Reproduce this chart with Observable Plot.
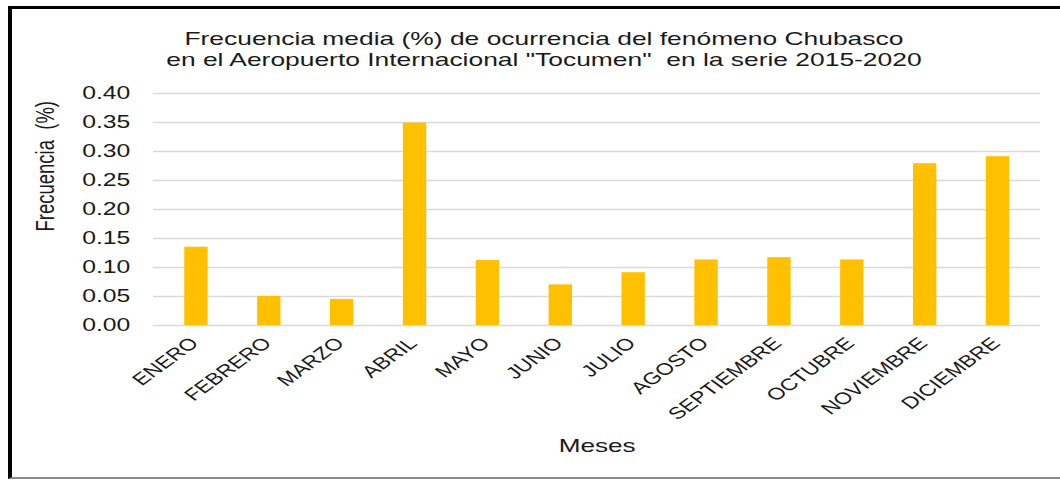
<!DOCTYPE html>
<html>
<head>
<meta charset="utf-8">
<script src="https://cdn.jsdelivr.net/npm/d3@7"></script>
<script src="https://cdn.jsdelivr.net/npm/@observablehq/plot@0.6"></script>
<style>
  html, body { margin: 0; padding: 0; background: #fff; width: 1060px; height: 481px; overflow: hidden; }
  #wrap { position: absolute; left: 0; top: 0; width: 771px; height: 481px; transform: scaleX(1.375); transform-origin: 0 0; }
  #frame { position: absolute; left: 8px; top: 6px; right: 0; bottom: 2px;
           border-top: 3px solid #000; border-left: 4px solid #000; border-bottom: 2px solid #8c8c8c;
           pointer-events: none; }
</style>
</head>
<body>
<div id="wrap"></div>
<div id="frame"></div>
<script>
const months = ["ENERO", "FEBRERO", "MARZO", "ABRIL", "MAYO", "JUNIO", "JULIO",
                "AGOSTO", "SEPTIEMBRE", "OCTUBRE", "NOVIEMBRE", "DICIEMBRE"];
const values = [0.135, 0.050, 0.045, 0.349, 0.112, 0.070, 0.091, 0.113, 0.117, 0.113, 0.279, 0.291];
const yTicks = [0.00, 0.05, 0.10, 0.15, 0.20, 0.25, 0.30, 0.35, 0.40];
const titleLines = [
  "Frecuencia media (%) de ocurrencia del fenómeno Chubasco",
  "en el Aeropuerto Internacional \"Tocumen\"  en la serie 2015-2020"
];
const yLabel = "Frecuencia  (%)";
const xLabel = "Meses";

const data = months.map((m, i) => ({ mes: m, valor: values[i] }));

const chart = Plot.plot({
  width: 771,
  height: 481,
  marginTop: 93,
  marginBottom: 156,
  marginLeft: 111.3,
  marginRight: 14.6,
  style: {
    fontFamily: "'Liberation Sans', Arial, sans-serif",
    fontSize: "18px",
    color: "#1a1a1a",
    background: "#fff",
    overflow: "visible"
  },
  x: { domain: months, paddingInner: 0.675, paddingOuter: 0.3375, label: null },
  y: { domain: [0, 0.4], label: null },
  marks: [
    Plot.ruleY(yTicks, { stroke: "#d9d9d9", strokeWidth: 1.3 }),
    Plot.barY(data, { x: "mes", y: "valor", fill: "#FFC000" }),
    Plot.axisY({ ticks: yTicks, tickSize: 0, tickPadding: 17, tickFormat: d => d.toFixed(2), fontSize: 18, label: null }),
    Plot.axisX({ tickSize: 0, tickRotate: -45, tickPadding: 15, dx: -1.5, fontSize: 16.8, label: null }),
    Plot.text([yLabel], { frameAnchor: "left", rotate: -90, dx: -78.6, dy: 22, fontSize: 18.5, fill: "#1a1a1a" }),
    Plot.text([xLabel], { frameAnchor: "bottom", dy: 126, lineAnchor: "bottom", fontSize: 19, fill: "#1a1a1a" }),
    Plot.text([titleLines.join("\n")], { frameAnchor: "top", dx: -38.8, dy: -28, lineAnchor: "bottom",
      fontSize: 19.2, lineHeight: 1.09, fill: "#1a1a1a" })
  ]
});
document.getElementById("wrap").appendChild(chart);
</script>
</body>
</html>
